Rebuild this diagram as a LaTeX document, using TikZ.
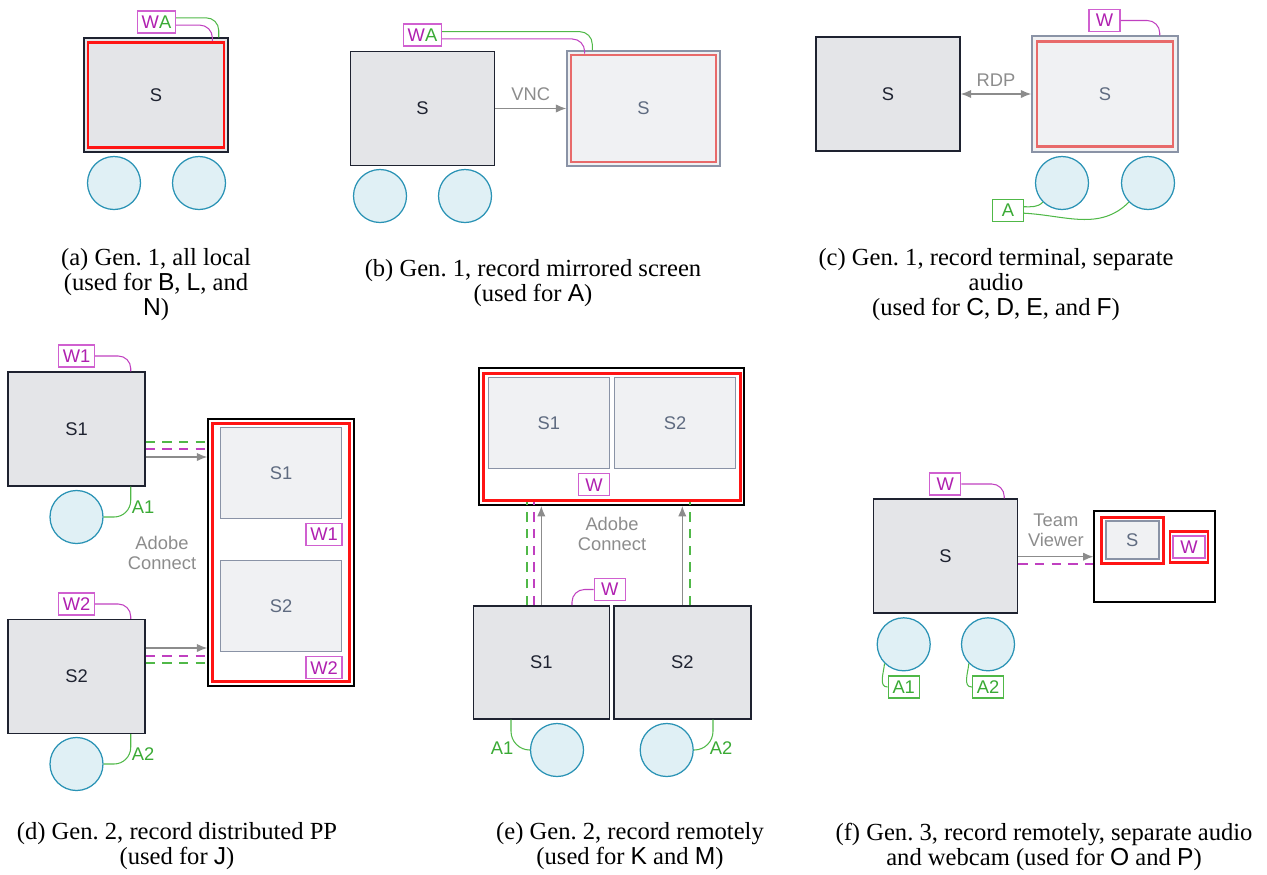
\documentclass[tikz,border=0pt]{standalone}
\usepackage{fontspec}
\setmainfont{Liberation Serif}
\setsansfont{Liberation Sans}
\usepackage{xcolor}
\usepackage{tikz}
\usetikzlibrary{arrows.meta,positioning,calc}

\definecolor{scrfill}{HTML}{E4E5E8}
\definecolor{scrline}{HTML}{1E2230}
\definecolor{mirfill}{HTML}{F0F1F3}
\definecolor{mirline}{HTML}{8A93A6}
\definecolor{mirtext}{HTML}{5F6B80}
\definecolor{recred}{HTML}{FF1414}
\definecolor{recsoft}{HTML}{E86A6A}
\definecolor{magline}{HTML}{D060D0}
\definecolor{magtext}{HTML}{B020B0}
\definecolor{magwire}{HTML}{C040C0}
\definecolor{grnline}{HTML}{50B848}
\definecolor{grntext}{HTML}{3AAA35}
\definecolor{micfill}{HTML}{E0F0F5}
\definecolor{micline}{HTML}{2A93B5}
\definecolor{arrgray}{HTML}{8C8C8C}

\newcommand{\pxu}{0.48pt}
\newcommand{\lbl}{\sffamily\fontsize{8.8}{9.6}\selectfont}

\begin{document}
\begin{tikzpicture}[
    x=\pxu, y=-\pxu,
    screen/.style={rectangle, draw=scrline, fill=scrfill, line width=0.7pt, inner sep=0pt,
        minimum width=144*\pxu, minimum height=114*\pxu, font=\lbl, text=scrline},
    mirror/.style={rectangle, draw=mirline, fill=mirfill, line width=0.7pt, inner sep=0pt, font=\lbl, text=mirtext},
    frame/.style={rectangle, draw=black, fill=white, line width=0.7pt, inner sep=0pt},
    recbox/.style={rectangle, draw=recred, line width=1.3pt, inner sep=0pt},
    recsoftbox/.style={rectangle, draw=recsoft, line width=1.3pt, inner sep=0pt},
    mic/.style={circle, draw=micline, fill=micfill, line width=0.6pt, minimum size=53*\pxu, inner sep=0pt},
    tag/.style={rectangle, draw=magline, fill=white, text=magtext, line width=0.6pt, inner sep=0pt,
        minimum width=31*\pxu, minimum height=22*\pxu, font=\lbl},
    atag/.style={tag, draw=grnline, text=grntext},
    glbl/.style={font=\lbl, text=grntext, inner sep=0pt},
    lbltext/.style={font=\lbl, text=arrgray, align=center},
    wire/.style={line width=0.5pt, rounded corners=6pt},
    mwire/.style={wire, draw=magwire},
    gwire/.style={wire, draw=grnline},
    mdash/.style={draw=magwire, line width=0.6pt, dash pattern=on 4.5pt off 3.5pt},
    gdash/.style={draw=grnline, line width=0.6pt, dash pattern=on 4.5pt off 3.5pt},
    arrow/.style={->, >={Latex[length=5pt,width=4pt]}, draw=arrgray, line width=0.6pt},
    captext/.style={font=\fontsize{11.8}{12}\selectfont, align=center, inner sep=0pt},
]
    \useasboundingbox (0,0) rectangle (1267,874);

    % (a) all local
    \node[screen] (sa) at (156,95) {S};
    \node[recbox, minimum width=136*\pxu, minimum height=105*\pxu] (ra) at (sa) {};
    \node[mic] (ma1) at (114,183) {};
    \node[mic] (ma2) at (199,183) {};
    \node[tag, minimum width=38*\pxu] (wa) at (156.5,22) {W\textcolor{grntext}{A}};
    \draw[gwire] ([yshift=2pt]wa.east) -| ([xshift=-10*\pxu]sa.north east);
    \draw[mwire] ([yshift=-1.5pt]wa.east) -| ([xshift=-13*\pxu]ra.north east);

    % (b) mirrored screen
    \node[screen] (sb) at (422.5,108.5) {S};
    \node[mirror, minimum width=153*\pxu, minimum height=115*\pxu] (mb) at (643.5,108.5) {S};
    \node[recsoftbox, minimum width=145*\pxu, minimum height=107*\pxu] (rb) at (mb) {};
    \node[mic] (mb1) at (380,196) {};
    \node[mic] (mb2) at (465,196) {};
    \node[tag, minimum width=38*\pxu] (wb) at (422.5,35) {W\textcolor{grntext}{A}};
    \draw[gwire] ([yshift=1.6pt]wb.east) -| ([xshift=26*\pxu]mb.north west);
    \draw[mwire] ([yshift=-1.9pt]wb.east) -| ([xshift=15*\pxu]rb.north west);
    \draw[arrow] (sb) -- node[lbltext, above] {VNC} (mb);

    % (c) terminal, separate audio
    \node[screen] (sc) at (888,94) {S};
    \node[mirror, minimum width=146*\pxu, minimum height=116*\pxu] (mc) at (1105,94) {S};
    \node[recsoftbox, minimum width=136*\pxu, minimum height=105*\pxu] (rc) at (mc) {};
    \draw[arrow, <->] (sc) -- node[lbltext, above] {RDP} (mc);
    \node[tag] (wc) at (1104.5,20.5) {W};
    \draw[mwire] (wc.east) -| ([xshift=-19*\pxu]mc.north east);
    \node[mic] (mc1) at (1062,183) {};
    \node[mic] (mc2) at (1148,183) {};
    \node[atag] (ac) at (1008,210.5) {A};
    \draw[gwire] ([yshift=1.8pt]ac.east) to[out=0, in=225] (mc1.225);
    \draw[gwire] ([yshift=-1.3pt]ac.east) to[out=-3, in=225] (mc2.225);

    % (d) distributed PP
    \node[screen, minimum width=137*\pxu] (sd1) at (76.5,429) {S1};
    \node[screen, minimum width=137*\pxu] (sd2) at (76.5,676.5) {S2};
    \node[tag, minimum width=36*\pxu] (wd1) at (76.5,356) {W1};
    \node[tag, minimum width=36*\pxu] (wd2) at (76.5,604) {W2};
    \draw[mwire] (wd1.east) -| ([xshift=-15*\pxu]sd1.north east);
    \draw[mwire] (wd2.east) -| ([xshift=-15*\pxu]sd2.north east);
    \node[mic] (md1) at (76.5,517) {};
    \node[mic] (md2) at (76.5,764) {};
    \draw[gwire, rounded corners=8pt] (md1.east) -| ([xshift=-15*\pxu]sd1.south east);
    \draw[gwire, rounded corners=8pt] (md2.east) -| ([xshift=-15*\pxu]sd2.south east);
    \node[glbl] (ad1) at (143,507) {A1};
    \node[glbl] (ad2) at (143,754) {A2};
    \node[frame, minimum width=146*\pxu, minimum height=267*\pxu] (fd) at (281,552.5) {};
    \node[recbox, minimum width=137*\pxu, minimum height=258*\pxu] (rd) at (fd) {};
    \node[mirror, minimum width=121*\pxu, minimum height=91*\pxu] (vd1) at (281,473) {S1};
    \node[mirror, minimum width=121*\pxu, minimum height=91*\pxu] (vd2) at (281,606) {S2};
    \node[tag, minimum width=36*\pxu] (vwd1) at (324,534.5) {W1};
    \node[tag, minimum width=36*\pxu] (vwd2) at (324,667.7) {W2};
    \draw[arrow] (sd1.east |- 0,457) -- (fd.west |- 0,457);
    \draw[gdash] (sd1.east |- 0,442) -- (rd.west |- 0,442);
    \draw[mdash] (sd1.east |- 0,449) -- (rd.west |- 0,449);
    \draw[arrow] (sd2.east |- 0,648) -- (fd.west |- 0,648);
    \draw[mdash] (sd2.east |- 0,656) -- (rd.west |- 0,656);
    \draw[gdash] (sd2.east |- 0,663) -- (rd.west |- 0,663);
    \node[lbltext] (acd) at (162,553) {Adobe\\Connect};

    % (e) record remotely
    \node[frame, minimum width=265*\pxu, minimum height=137*\pxu] (fe) at (611.7,436.7) {};
    \node[recbox, minimum width=257*\pxu, minimum height=127*\pxu] (re) at (fe) {};
    \node[mirror, minimum width=121*\pxu, minimum height=91*\pxu] (ve1) at (548.8,423) {S1};
    \node[mirror, minimum width=121*\pxu, minimum height=91*\pxu] (ve2) at (675,423) {S2};
    \node[tag] (vwe) at (594,484.7) {W};
    \node[screen, minimum width=136*\pxu, minimum height=113*\pxu] (se1) at (541.3,662.3) {S1};
    \node[screen, minimum width=137*\pxu, minimum height=113*\pxu] (se2) at (682.3,662.3) {S2};
    \draw[arrow] (se1.north) -- (se1.north |- fe.south);
    \draw[gdash] (se1.north -| 527,0) -- (re.south -| 527,0);
    \draw[mdash] (se1.north -| 534,0) -- (re.south -| 534,0);
    \draw[arrow] (se2.north) -- (se2.north |- fe.south);
    \draw[gdash] (se2.north -| 690,0) -- (re.south -| 690,0);
    \node[lbltext] (ace) at (612,534) {Adobe\\Connect};
    \node[tag] (we) at (609.8,589.5) {W};
    \draw[mwire] (we.west) -| (se1.north -| 572,0);
    \node[mic] (me1) at (557,750) {};
    \node[mic] (me2) at (666.7,750) {};
    \draw[gwire, rounded corners=9pt] (se1.south -| 511,0) |- (me1.west);
    \draw[gwire, rounded corners=9pt] (se2.south -| 713,0) |- (me2.east);
    \node[glbl] (ae1) at (502,748) {A1};
    \node[glbl] (ae2) at (721,748) {A2};

    % (f) remote, separate audio and webcam
    \node[screen] (sf) at (945.5,556) {S};
    \node[tag] (wf) at (945.3,484) {W};
    \draw[mwire] (wf.east) -| ([xshift=-14*\pxu]sf.north east);
    \node[frame, minimum width=121*\pxu, minimum height=91*\pxu] (ff) at (1154.7,556.7) {};
    \node[recbox, minimum width=62*\pxu, minimum height=46*\pxu] (rfs) at (1132.5,540.3) {};
    \node[mirror, minimum width=53*\pxu, minimum height=38*\pxu] (vf) at (1132.3,540.2) {S};
    \node[recbox, minimum width=38*\pxu, minimum height=31*\pxu] (rfw) at (1189,547.2) {};
    \node[tag, minimum width=32*\pxu] (vwf) at (1189,547) {W};
    \draw[arrow] (sf.east |- 0,556.7) -- node[lbltext, above=1pt] {Team\\Viewer} (ff.west |- 0,556.7);
    \draw[mdash] (sf.east |- 0,564) -- (ff.west |- 0,564);
    \node[mic] (mf1) at (903.7,644.3) {};
    \node[mic] (mf2) at (988,644.3) {};
    \node[atag] (af1) at (903.7,687) {A1};
    \node[atag] (af2) at (988,687) {A2};
    \draw[gwire] (mf1.225) to[out=-95, in=180] (af1.west);
    \draw[gwire] (mf2.225) to[out=-95, in=180] (af2.west);

    % Captions
    \node[captext] (capa) at (156,284.5) {(a) Gen.~1, all local\\(used for \textsf{B}, \textsf{L}, and\\\textsf{N})};
    \node[captext] (capb) at (533,283.5) {(b) Gen.~1, record mirrored screen\\(used for \textsf{A})};
    \node[captext] (capc) at (996,284.5) {(c) Gen.~1, record terminal, separate\\audio\\(used for \textsf{C}, \textsf{D}, \textsf{E}, and \textsf{F})};
    \node[captext] (capd) at (177,846.5) {(d) Gen.~2, record distributed PP\\(used for \textsf{J})};
    \node[captext] (cape) at (630,846.5) {(e) Gen.~2, record remotely\\(used for \textsf{K} and \textsf{M})};
    \node[captext] (capf) at (1044,846.5) {(f) Gen.~3, record remotely, separate audio\\and webcam (used for \textsf{O} and \textsf{P})};
\end{tikzpicture}
\end{document}
